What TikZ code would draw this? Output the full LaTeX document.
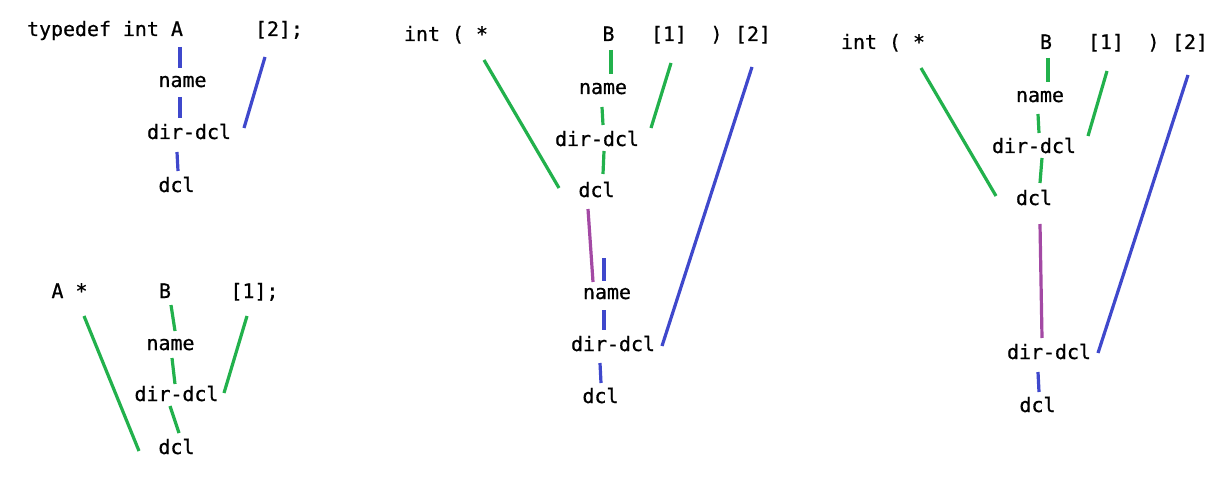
\documentclass[tikz,border=0pt]{standalone}
\usepackage{fontspec}
\newfontfamily\codefont[FakeBold=0.8]{DejaVu Sans Mono}
\definecolor{tblue}{HTML}{3F48CC}
\definecolor{tgreen}{HTML}{22B14C}
\definecolor{tpurple}{HTML}{A349A4}
\begin{document}
\begin{tikzpicture}[x=1pt, y=-1pt,
  tok/.style={font=\codefont\fontsize{19.9pt}{24pt}\selectfont, inner sep=0pt, anchor=base},
  bl/.style={draw=tblue, line width=3.2pt},
  gr/.style={draw=tgreen, line width=3.2pt},
  pu/.style={draw=tpurple, line width=3.2pt}]
\fill[white] (0,0) rectangle (1232,492);
\useasboundingbox (0,0) rectangle (1232,492);

% ---- typedef int A [2]; ----
\node[tok] (t1) at (93,36) {typedef int};
\node[tok] (A1) at (177,36) {A};
\node[tok] (s1) at (279,36) {[2];};
\node[tok] (n1) at (182.5,87) {name};
\node[tok] (d1) at (189,139) {dir-dcl};
\node[tok] (c1) at (176.5,192) {dcl};
\draw[bl] ([shift={(3,11)}]A1.base) -- ([shift={(-2.5,-19)}]n1.base);
\draw[bl] ([shift={(-2.5,10)}]n1.base) -- ([shift={(-9,-21)}]d1.base);
\draw[bl] ([shift={(-14,21)}]s1.base) -- ([shift={(55,-11)}]d1.base);
\draw[bl] ([shift={(-12,13)}]d1.base) -- ([shift={(1.5,-21)}]c1.base);

% ---- A * B [1]; ----
\node[tok] (a2) at (57.5,298) {A};
\node[tok] (st2) at (81.5,298) {*};
\node[tok] (B2) at (165,298) {B};
\node[tok] (s2) at (254.5,298) {[1];};
\node[tok] (n2) at (170.5,350) {name};
\node[tok] (d2) at (176.5,401) {dir-dcl};
\node[tok] (c2) at (176.5,454) {dcl};
\draw[gr] ([shift={(6,7)}]B2.base) -- ([shift={(4.5,-19)}]n2.base);
\draw[gr] ([shift={(1.5,8)}]n2.base) -- ([shift={(-1.5,-17)}]d2.base);
\draw[gr] ([shift={(-7.5,18)}]s2.base) -- ([shift={(47.5,-8)}]d2.base);
\draw[gr] ([shift={(-6.5,5)}]d2.base) -- ([shift={(2.5,-21)}]c2.base);
\draw[gr] ([shift={(2.5,18)}]st2.base) -- ([shift={(-37.5,-3)}]c2.base);

% ---- int ( * B [1] ) [2], two trees ----
\node[tok] (i3) at (434,41) {int (};
\node[tok] (st3) at (482,41) {*};
\node[tok] (B3) at (608.5,41) {B};
\node[tok] (s3) at (669,41) {[1]};
\node[tok] (r3) at (716.5,41) {)};
\node[tok] (t3) at (753,41) {[2]};
\node[tok] (n3) at (603,94) {name};
\node[tok] (d3) at (597,146) {dir-dcl};
\node[tok] (c3) at (596.5,197) {dcl};
\node[tok] (n3b) at (607,299) {name};
\node[tok] (d3b) at (613,351) {dir-dcl};
\node[tok] (c3b) at (600.5,403) {dcl};
\coordinate (top3) at (604,258);
\draw[gr] ([shift={(2.5,9)}]B3.base) -- ([shift={(8,-20)}]n3.base);
\draw[gr] ([shift={(-1,13)}]n3.base) -- ([shift={(6,-21)}]d3.base);
\draw[gr] ([shift={(2,22)}]s3.base) -- ([shift={(54,-18)}]d3.base);
\draw[gr] ([shift={(7,5)}]d3.base) -- ([shift={(6.5,-23)}]c3.base);
\draw[gr] ([shift={(2,19)}]st3.base) -- ([shift={(-37.5,-9)}]c3.base);
\draw[pu] ([shift={(-8.5,12)}]c3.base) -- ([shift={(-14,-17)}]n3b.base);
\draw[bl] (top3) -- ([shift={(-3,-18)}]n3b.base);
\draw[bl] ([shift={(-3,11)}]n3b.base) -- ([shift={(-9,-21)}]d3b.base);
\draw[bl] ([shift={(-1,26)}]t3.base) -- ([shift={(49,-5)}]d3b.base);
\draw[bl] ([shift={(-13,12)}]d3b.base) -- ([shift={(0.5,-20)}]c3b.base);

% ---- int ( * B [1] ) [2], merged tree ----
\node[tok] (i4) at (871,49) {int (};
\node[tok] (st4) at (919,49) {*};
\node[tok] (B4) at (1046,49) {B};
\node[tok] (s4) at (1106,49) {[1]};
\node[tok] (r4) at (1153.5,49) {)};
\node[tok] (t4) at (1190,49) {[2]};
\node[tok] (n4) at (1040,102) {name};
\node[tok] (d4) at (1034,153) {dir-dcl};
\node[tok] (c4) at (1034,205) {dcl};
\node[tok] (d4b) at (1049,359) {dir-dcl};
\node[tok] (c4b) at (1037.5,412) {dcl};
\draw[gr] ([shift={(2,9)}]B4.base) -- ([shift={(8,-20)}]n4.base);
\draw[gr] ([shift={(-2,12)}]n4.base) -- ([shift={(5,-20)}]d4.base);
\draw[gr] ([shift={(1,22)}]s4.base) -- ([shift={(54,-17)}]d4.base);
\draw[gr] ([shift={(8,5)}]d4.base) -- ([shift={(6,-22)}]c4.base);
\draw[gr] ([shift={(2,19)}]st4.base) -- ([shift={(-38,-9)}]c4.base);
\draw[pu] ([shift={(6,19)}]c4.base) -- ([shift={(-7,-21)}]d4b.base);
\draw[bl] ([shift={(-2,26)}]t4.base) -- ([shift={(49,-6)}]d4b.base);
\draw[bl] ([shift={(-11,13)}]d4b.base) -- ([shift={(1.5,-20)}]c4b.base);
\end{tikzpicture}
\end{document}
